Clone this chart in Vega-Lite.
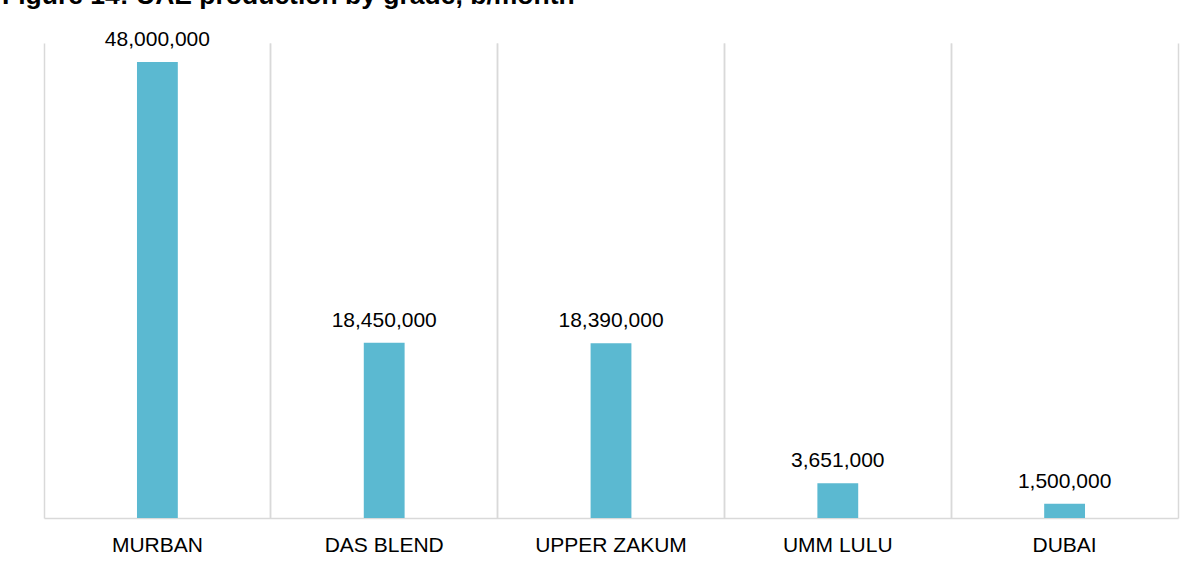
{
  "$schema": "https://vega.github.io/schema/vega-lite/v6.json",
  "width": 1134,
  "height": 475,
  "autosize": {"type": "none"},
  "padding": {"left": 44, "top": 43, "right": 13, "bottom": 47},
  "background": "white",
  "title": {
    "text": "Figure 14: UAE production by grade, b/month",
    "anchor": "start",
    "frame": "group",
    "orient": "top",
    "font": "Liberation Sans",
    "fontSize": 26.5,
    "fontWeight": "bold",
    "color": "#000000",
    "baseline": "alphabetic",
    "dx": -42,
    "offset": 0,
    "dy": 1
  },
  "config": {
    "view": {"stroke": null},
    "font": "Liberation Sans"
  },
  "data": {
    "values": [
      {"grade": "MURBAN", "value": 48000000},
      {"grade": "DAS BLEND", "value": 18450000},
      {"grade": "UPPER ZAKUM", "value": 18390000},
      {"grade": "UMM LULU", "value": 3651000},
      {"grade": "DUBAI", "value": 1500000}
    ]
  },
  "encoding": {
    "x": {
      "field": "grade",
      "type": "nominal",
      "sort": null,
      "scale": {"paddingInner": 0, "paddingOuter": 0}
    },
    "y": {
      "field": "value",
      "type": "quantitative",
      "scale": {"domain": [0, 50000000], "nice": false, "zero": true},
      "axis": null
    }
  },
  "layer": [
    {
      "mark": {"type": "bar", "color": "#5BB9D1", "width": {"band": 0.18}},
      "encoding": {
        "x": {
          "field": "grade",
          "type": "nominal",
          "sort": null,
          "axis": {
            "orient": "bottom",
            "title": null,
            "labelAngle": 0,
            "labelFont": "Liberation Sans",
            "labelFontSize": 21,
            "labelColor": "#000000",
            "labelPadding": 16,
            "ticks": false,
            "domain": true,
            "domainColor": "#D9D9D9",
            "domainWidth": 1.5,
            "grid": true,
            "gridColor": "#D9D9D9",
            "gridWidth": 1.5,
            "bandPosition": 0
          }
        }
      }
    },
    {
      "mark": {"type": "text", "baseline": "alphabetic", "dy": -16, "fontSize": 21, "font": "Liberation Sans", "color": "#000000"},
      "encoding": {
        "x": {
          "field": "grade",
          "type": "nominal",
          "sort": null,
          "axis": {
            "orient": "top",
            "title": null,
            "labels": false,
            "ticks": false,
            "domain": false,
            "grid": true,
            "gridColor": "#D9D9D9",
            "gridWidth": 1.5,
            "bandPosition": 1
          }
        },
        "text": {"field": "value", "type": "quantitative", "format": ",.0f"}
      }
    }
  ],
  "resolve": {"axis": {"x": "independent"}}
}
